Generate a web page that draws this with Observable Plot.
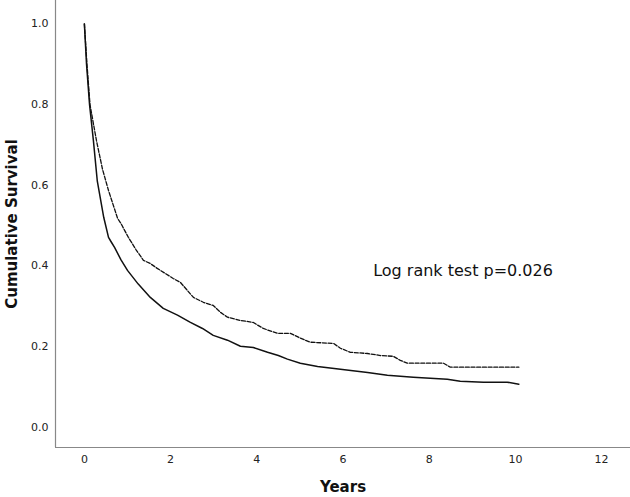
<!DOCTYPE html>
<html>
<head>
<meta charset="utf-8">
<script src="https://cdn.jsdelivr.net/npm/d3@7"></script>
<script src="https://cdn.jsdelivr.net/npm/@observablehq/plot@0.6"></script>
<style>
  html, body { margin: 0; padding: 0; background: #fff; }
  #chart { width: 630px; height: 497px; }
</style>
</head>
<body>
<div id="chart"></div>
<script>
// Group with lower survival (solid line)
const solidYears = [0, 0.05, 0.12, 0.21, 0.30, 0.45, 0.56, 0.62, 0.70, 0.85, 1.0, 1.25, 1.53, 1.83, 2.16, 2.46, 2.74, 2.99, 3.32, 3.62, 3.92, 4.25, 4.5, 4.71, 5.01, 5.41, 5.94, 6.57, 7.03, 7.63, 8.42, 8.72, 9.26, 9.81, 10.08];
const solidSurvival = [1.0, 0.9, 0.8, 0.71, 0.61, 0.52, 0.471, 0.46, 0.446, 0.415, 0.389, 0.355, 0.322, 0.295, 0.278, 0.26, 0.245, 0.228, 0.216, 0.201, 0.198, 0.186, 0.178, 0.169, 0.159, 0.151, 0.144, 0.136, 0.129, 0.124, 0.119, 0.114, 0.112, 0.112, 0.107];

// Group with higher survival (dashed line)
const dashedYears = [0, 0.06, 0.13, 0.28, 0.42, 0.56, 0.77, 0.85, 1.02, 1.2, 1.37, 1.53, 1.69, 2.06, 2.23, 2.53, 2.76, 2.99, 3.16, 3.32, 3.62, 3.92, 4.15, 4.48, 4.78, 5.01, 5.24, 5.78, 5.94, 6.17, 6.57, 6.87, 7.17, 7.33, 7.49, 8.33, 8.49, 10.08];
const dashedSurvival = [1.0, 0.9, 0.8, 0.711, 0.64, 0.587, 0.518, 0.505, 0.471, 0.44, 0.414, 0.406, 0.394, 0.369, 0.359, 0.322, 0.31, 0.302, 0.285, 0.273, 0.265, 0.26, 0.245, 0.233, 0.233, 0.221, 0.211, 0.208, 0.196, 0.186, 0.183, 0.178, 0.176, 0.166, 0.159, 0.159, 0.149, 0.149];

const xTicks = [0, 2, 4, 6, 8, 10, 12];
const yTicks = [0.0, 0.2, 0.4, 0.6, 0.8, 1.0];
const xDomain = [-0.67, 12.67];
const yDomain = [-0.05, 1.058];

const annotationText = "Log rank test p=0.026";
const annotationX = 6.7;
const annotationY = 0.389;

const solid = solidYears.map((t, i) => ({t, s: solidSurvival[i]}));
const dashed = dashedYears.map((t, i) => ({t, s: dashedSurvival[i]}));

const font = "'DejaVu Sans', sans-serif";

const chart = Plot.plot({
  width: 630,
  height: 497,
  marginLeft: 55,
  marginRight: 0,
  marginTop: 0,
  marginBottom: 50,
  style: {fontFamily: font, fontSize: "11px", background: "#fff", color: "#222"},
  x: {domain: xDomain},
  y: {domain: yDomain},
  marks: [
    Plot.axisX(xTicks, {tickSize: 0, tickPadding: 8, label: null, fontSize: 11}),
    Plot.axisY(yTicks, {tickSize: 0, tickPadding: 7, label: null, tickFormat: d3.format(".1f"), fontSize: 11}),
    Plot.ruleX([xDomain[0]], {stroke: "#888", strokeWidth: 1.2}),
    Plot.ruleY([yDomain[0]], {stroke: "#888", strokeWidth: 1.2}),
    Plot.line(solid, {x: "t", y: "s", stroke: "#111", strokeWidth: 1.5}),
    Plot.line(dashed, {x: "t", y: "s", stroke: "#111", strokeWidth: 1.3, strokeDasharray: "4,1.7"}),
    Plot.text([annotationText], {x: annotationX, y: annotationY, text: d => d, textAnchor: "start", fontSize: 16, fill: "#111"}),
    Plot.text(["Years"], {frameAnchor: "bottom", text: d => d, dy: 40, textAnchor: "middle", lineAnchor: "middle", fontSize: 15, fontWeight: "bold", fill: "#111"}),
    Plot.text(["Cumulative Survival"], {frameAnchor: "left", text: d => d, rotate: -90, dx: -43, textAnchor: "middle", lineAnchor: "middle", fontSize: 15, fontWeight: "bold", fill: "#111"})
  ]
});

document.getElementById("chart").appendChild(chart);
</script>
</body>
</html>
